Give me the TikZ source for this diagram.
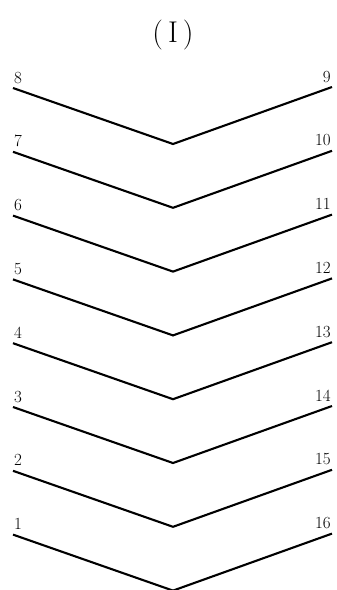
\documentclass[tikz,border=0pt]{standalone}
\usetikzlibrary{positioning}

\tikzset{
    vline/.style={line width=2.1pt, line join=miter},
    numlabel/.style={inner sep=0pt, font=\fontsize{17}{17}\selectfont}
}

\begin{document}
\begin{tikzpicture}[x=1pt, y=-1pt]
\useasboundingbox (0,0) rectangle (337,590);

% Title
\node (title) at (173,35) {\fontsize{30}{30}\selectfont (\kern5pt I\kern5pt)};

% Bent lines, numbered from the bottom
\foreach \i in {1,...,8} {
    \pgfmathsetmacro{\ytop}{88+(8-\i)*63.8}
    \pgfmathtruncatemacro{\j}{17-\i}
    \coordinate (l\i) at (13,\ytop);
    \coordinate (v\i) at (173,\ytop+56);
    \coordinate (r\i) at (332,\ytop-1);
    \node[numlabel, anchor=base west] (nl\i) at ([xshift=1pt, yshift=5pt]l\i) {\i};
    \node[numlabel, anchor=base east] (nr\i) at ([xshift=-1pt, yshift=5pt]r\i) {\j};
    \draw[vline] (l\i) -- (v\i) -- (r\i);
}

\end{tikzpicture}
\end{document}
